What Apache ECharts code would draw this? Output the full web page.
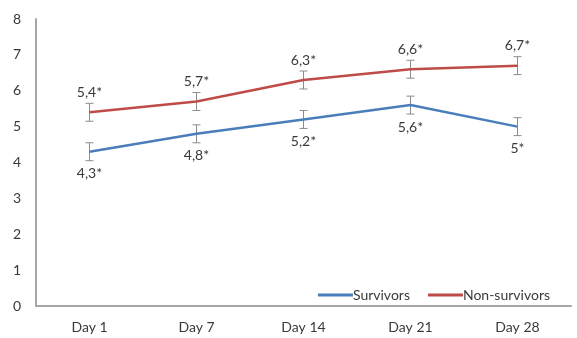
<!DOCTYPE html>
<html>
<head>
<meta charset="utf-8">
<script src="https://cdn.jsdelivr.net/npm/echarts@6/dist/echarts.min.js"></script>
<style>
  html, body { margin: 0; padding: 0; background: #fff; }
  #chart { width: 577px; height: 338px; }
</style>
</head>
<body>
<div id="chart"></div>
<script>
// Categories and series values
const days = ['Day 1', 'Day 7', 'Day 14', 'Day 21', 'Day 28'];
const survivors = [4.3, 4.8, 5.2, 5.6, 5.0];
const nonSurvivors = [5.4, 5.7, 6.3, 6.6, 6.7];
const survivorsErr = [0.25, 0.25, 0.25, 0.25, 0.25];
const nonSurvivorsErr = [0.25, 0.25, 0.25, 0.25, 0.25];
const survivorsLabels = ['4,3*', '4,8*', '5,2*', '5,6*', '5*'];
const nonSurvivorsLabels = ['5,4*', '5,7*', '6,3*', '6,6*', '6,7*'];
const yTicks = [0, 1, 2, 3, 4, 5, 6, 7, 8];

const BLUE = '#4a7ebb';
const RED = '#be4b48';
const FONT = 'Lato';
const TEXT = '#3a3a3a';
const FS = 14;

// Error bar drawn as whisker with caps
function errorBars(values, errs) {
  return {
    type: 'custom',
    silent: true,
    z: 1,
    data: values.map((v, i) => [i, v - errs[i], v + errs[i]]),
    renderItem: function (params, api) {
      const lo = api.coord([api.value(0), api.value(1)]);
      const hi = api.coord([api.value(0), api.value(2)]);
      const cap = 4;
      const style = { stroke: '#8c8c8c', lineWidth: 1 };
      return {
        type: 'group',
        children: [
          { type: 'line', shape: { x1: lo[0], y1: lo[1], x2: hi[0], y2: hi[1] }, style },
          { type: 'line', shape: { x1: lo[0] - cap, y1: lo[1], x2: lo[0] + cap, y2: lo[1] }, style },
          { type: 'line', shape: { x1: hi[0] - cap, y1: hi[1], x2: hi[0] + cap, y2: hi[1] }, style }
        ]
      };
    }
  };
}

// Value labels placed at each point, offset above or below the line
function valueLabels(values, labels, dy) {
  return {
    type: 'custom',
    silent: true,
    z: 4,
    data: values.map((v, i) => [i, v]),
    renderItem: function (params, api) {
      const p = api.coord([api.value(0), api.value(1)]);
      return {
        type: 'text',
        x: p[0],
        y: p[1] + dy,
        style: {
          text: labels[params.dataIndex],
          fill: TEXT,
          font: FS + 'px ' + FONT,
          align: 'center',
          verticalAlign: 'middle'
        }
      };
    }
  };
}

function lineSeries(name, values, color) {
  return {
    name: name,
    type: 'line',
    data: values,
    z: 3,
    symbol: 'none',
    lineStyle: { color: color, width: 2.5 },
    itemStyle: { color: color }
  };
}

const chart = echarts.init(document.getElementById('chart'));
chart.setOption({
  animation: false,
  textStyle: { fontFamily: FONT },
  grid: { left: 36, right: 6, top: 19, bottom: 32, containLabel: false },
  legend: {
    right: 22,
    top: 283,
    itemWidth: 35,
    itemHeight: 3,
    itemGap: 18,
    icon: 'rect',
    textStyle: { fontFamily: FONT, fontSize: FS, color: TEXT, padding: [0, 0, 0, -5] },
    data: ['Survivors', 'Non-survivors']
  },
  xAxis: {
    type: 'category',
    data: days,
    boundaryGap: true,
    axisLine: { lineStyle: { color: '#a6a6a6', width: 2 } },
    axisTick: { show: false },
    axisLabel: { color: TEXT, fontSize: FS, fontFamily: FONT, margin: 14 }
  },
  yAxis: {
    type: 'value',
    min: yTicks[0],
    max: yTicks[yTicks.length - 1],
    interval: 1,
    splitLine: { show: false },
    axisLine: { show: true, lineStyle: { color: '#a6a6a6', width: 2 } },
    axisTick: { show: false },
    axisLabel: { color: TEXT, fontSize: FS, fontFamily: FONT, margin: 15 }
  },
  series: [
    errorBars(survivors, survivorsErr),
    errorBars(nonSurvivors, nonSurvivorsErr),
    lineSeries('Survivors', survivors, BLUE),
    lineSeries('Non-survivors', nonSurvivors, RED),
    valueLabels(survivors, survivorsLabels, 22),
    valueLabels(nonSurvivors, nonSurvivorsLabels, -20)
  ]
});
</script>
</body>
</html>
